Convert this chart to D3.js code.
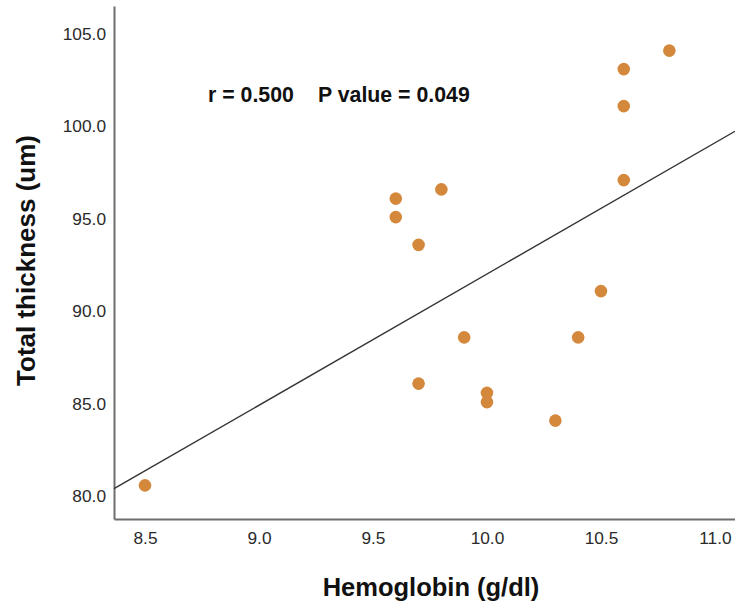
<!DOCTYPE html>
<html>
<head>
<meta charset="utf-8">
<script src="https://cdn.jsdelivr.net/npm/d3@7"></script>
<style>
  html, body { margin: 0; padding: 0; background: #fff; }
  svg { display: block; }
</style>
</head>
<body>
<svg id="chart" width="735" height="601"></svg>
<script>
// Data
const hemoglobin = [8.5, 9.6, 9.6, 9.7, 9.7, 9.8, 9.9, 10.0, 10.0, 10.3, 10.4, 10.5, 10.6, 10.6, 10.6, 10.8];
const thickness  = [80.6, 96.1, 95.1, 93.6, 86.1, 96.6, 88.6, 85.6, 85.1, 84.1, 88.6, 91.1, 97.1, 101.1, 103.1, 104.1];
const xTicks = [8.5, 9.0, 9.5, 10.0, 10.5, 11.0];
const yTicks = [80, 85, 90, 95, 100, 105];
const xTitle = "Hemoglobin (g/dl)";
const yTitle = "Total thickness (um)";
const statR = "r = 0.500";
const statP = "P value = 0.049";

(function () {
const svg = d3.select("#chart");
const mLeft = 114, mRight = 735, mTop = 6, mBottom = 519;

const x = d3.scaleLinear().domain([8.364, 11.088]).range([mLeft, mRight]);
const y = d3.scaleLinear().domain([78.78, 106.51]).range([mBottom, mTop]);

const font = "'Liberation Sans', Arial, sans-serif";

// axes
const yAxis = d3.axisLeft(y).tickValues(yTicks).tickFormat(d3.format(".1f"))
  .tickSize(0).tickSizeOuter(0).tickPadding(8);
const xAxis = d3.axisBottom(x).tickValues(xTicks).tickFormat(d3.format(".1f"))
  .tickSize(0).tickSizeOuter(0).tickPadding(13);

const gy = svg.append("g").attr("transform", `translate(${mLeft},0)`).call(yAxis);
const gx = svg.append("g").attr("transform", `translate(0,${mBottom})`).call(xAxis);
[gx, gy].forEach(g => {
  g.select(".domain").attr("stroke", "#6e6e6e").attr("stroke-width", 2);
  g.selectAll("text").attr("font-family", font).attr("font-size", 17.3).attr("fill", "#2a2a2a");
});

// regression line (least squares from data)
const mx = d3.mean(hemoglobin), my = d3.mean(thickness);
let sxy = 0, sxx = 0;
hemoglobin.forEach((v, i) => { sxy += (v - mx) * (thickness[i] - my); sxx += (v - mx) * (v - mx); });
const slope = sxy / sxx, icpt = my - slope * mx;
const [x0, x1] = x.domain();
svg.append("line")
  .attr("x1", x(x0)).attr("y1", y(icpt + slope * x0))
  .attr("x2", x(x1)).attr("y2", y(icpt + slope * x1))
  .attr("stroke", "#333").attr("stroke-width", 1.4);

// points
svg.append("g").selectAll("circle")
  .data(hemoglobin.map((v, i) => [v, thickness[i]]))
  .join("circle")
  .attr("cx", d => x(d[0])).attr("cy", d => y(d[1]))
  .attr("r", 6.3).attr("fill", "#d4883c");

// annotation
svg.append("text").attr("x", 208).attr("y", 102)
  .attr("font-family", font).attr("font-weight", "bold").attr("font-size", 21.3).attr("fill", "#111")
  .text(statR);
svg.append("text").attr("x", 318).attr("y", 102)
  .attr("font-family", font).attr("font-weight", "bold").attr("font-size", 21.3).attr("fill", "#111")
  .text(statP);

// axis titles
svg.append("text").attr("x", 431).attr("y", 596).attr("text-anchor", "middle")
  .attr("font-family", font).attr("font-weight", "bold").attr("font-size", 25.5).attr("fill", "#111")
  .text(xTitle);
svg.append("text").attr("transform", "translate(35,260.5) rotate(-90)").attr("text-anchor", "middle")
  .attr("font-family", font).attr("font-weight", "bold").attr("font-size", 26).attr("fill", "#111")
  .text(yTitle);
})();
</script>
</body>
</html>
